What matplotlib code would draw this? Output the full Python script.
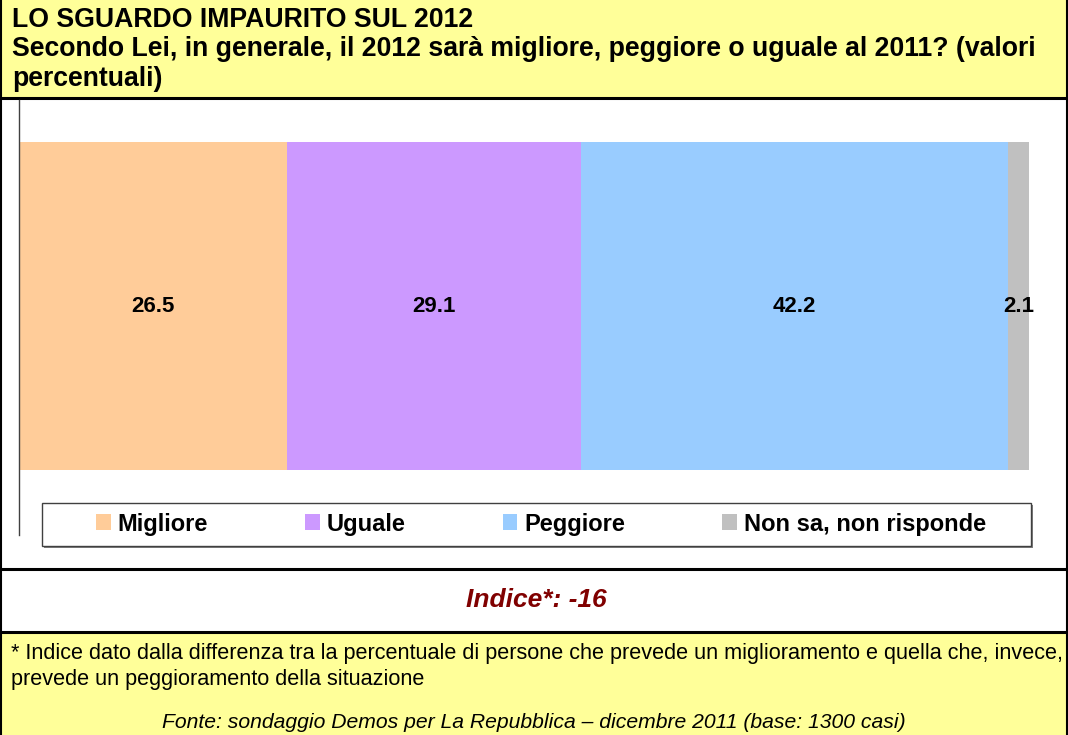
"""
Demos poll: how will 2012 compare to 2011 (stacked 100% bar).
"""
import matplotlib
matplotlib.use("Agg")
from matplotlib import pyplot as plt
from matplotlib.patches import Patch, Rectangle

CATEGORIES = ["Migliore", "Uguale", "Peggiore", "Non sa, non risponde"]
VALUES = [26.5, 29.1, 42.2, 2.1]
COLORS = ["#FFCC99", "#CC99FF", "#99CCFF", "#C0C0C0"]

TITLE = ("LO SGUARDO IMPAURITO SUL 2012\n"
         "Secondo Lei, in generale, il 2012 sarà migliore, peggiore o uguale al 2011? (valori\n"
         "percentuali)")
INDEX_TEXT = "Indice*: -16"
NOTE = ("* Indice dato dalla differenza tra la percentuale di persone che prevede un miglioramento e quella che, invece,\n"
        "prevede un peggioramento della situazione")
SOURCE = "Fonte: sondaggio Demos per La Repubblica \u2013 dicembre 2011 (base: 1300 casi)"

W, H = 1068, 735
YELLOW = "#FFFF99"

plt.rcParams["font.family"] = ["Liberation Sans", "DejaVu Sans"]

fig = plt.figure(figsize=(W / 100, H / 100), dpi=100)

# background panels, drawn in pixel coordinates
bg = fig.add_axes([0, 0, 1, 1])
bg.set_xlim(0, W)
bg.set_ylim(H, 0)
bg.axis("off")
bg.add_patch(Rectangle((0, 0), W, 98, fc=YELLOW, ec="none"))
bg.add_patch(Rectangle((0, 633), W, H - 633, fc=YELLOW, ec="none"))
for y in (98, 569, 632):
    bg.plot([0, W], [y, y], color="black", lw=2.2)
bg.plot([1, 1], [0, H], color="black", lw=1.5)
bg.plot([W - 1.5, W - 1.5], [0, H], color="black", lw=1.5)

bg.text(12, 7, TITLE, ha="left", va="top", fontsize=19.2, fontweight="bold",
        linespacing=1.17)
bg.text(536, 600, INDEX_TEXT, ha="center", va="center", fontsize=19,
        fontweight="bold", style="italic", color="#800000")
bg.text(11, 643, NOTE, ha="left", va="top", fontsize=15.6, linespacing=1.3)
bg.text(534, 722, SOURCE, ha="center", va="center", fontsize=15.2,
        style="italic")

# legend frame with a light shadow
bg.add_patch(Rectangle((44, 505), 989, 43, fc="#808080", ec="none"))
bg.add_patch(Rectangle((42, 503), 989, 43, fc="white", ec="#404040", lw=1))

# chart
ax = fig.add_axes([19 / W, 1 - 535 / H, 1011 / W, 435 / H])
ax.set_xlim(0, 100)
ax.set_ylim(-0.5 - 65 / 328, 0.5 + 42 / 328)
left = 0
for cat, val, col in zip(CATEGORIES, VALUES, COLORS):
    bars = ax.barh(0, val, left=left, height=1, color=col, label=cat)
    ax.bar_label(bars, labels=[f"{val:.1f}"], label_type="center",
                 fontsize=16, fontweight="bold")
    left += val
ax.set_xticks([])
ax.set_yticks([])
for side in ("top", "right", "bottom"):
    ax.spines[side].set_visible(False)
ax.spines["left"].set_color("#404040")
ax.spines["left"].set_linewidth(1)
ax.patch.set_alpha(0)

handles = [Patch(fc=c, ec="none") for c in COLORS]
fig.legend(handles, CATEGORIES, loc="center", ncol=4,
           bbox_to_anchor=(541 / W, 1 - 524 / H), frameon=False,
           prop={"size": 17, "weight": "bold"}, handlelength=0.63,
           handleheight=0.63, handletextpad=0.3, columnspacing=4.1)

fig.savefig("out.png", dpi=100)
